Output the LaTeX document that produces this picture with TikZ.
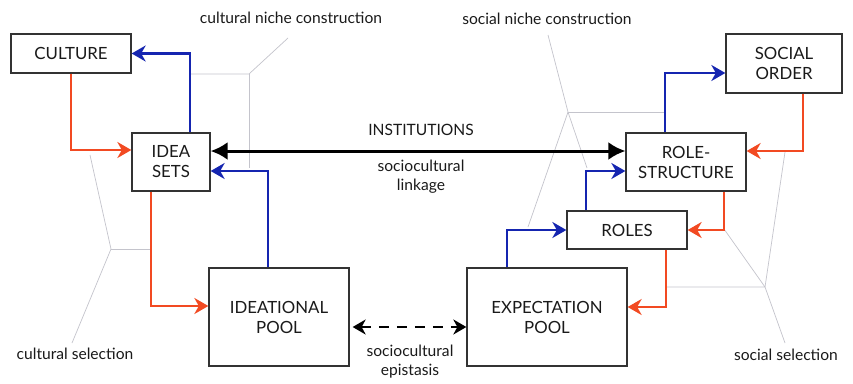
\documentclass[tikz,border=0pt]{standalone}
\usepackage{fontspec}
\setmainfont{Lato}
\usetikzlibrary{arrows.meta}
\definecolor{myblue}{HTML}{1525B0}
\definecolor{myred}{HTML}{F24A22}
\definecolor{mygrey}{HTML}{C4C4CC}
\definecolor{boxline}{HTML}{333333}
\definecolor{txt}{HTML}{1A1A1A}
\begin{document}
\begin{tikzpicture}[x=1pt,y=-1pt,
  box/.style={draw=boxline, line width=1.3pt, fill=white, align=center, inner sep=0pt, text=txt, font=\fontsize{16.8}{20}\selectfont},
  lab/.style={align=center, text=txt, font=\fontsize{15.6}{19}\selectfont},
  bluearr/.style={draw=myblue, line width=2.4pt, -{Stealth[length=14pt,width=16pt,inset=4.5pt]}},
  redarr/.style={draw=myred, line width=2.4pt, -{Stealth[length=14pt,width=16pt,inset=4.5pt]}},
  linkarr/.style={draw=black, line width=3pt, {Latex[length=17pt,width=18pt]}-{Latex[length=17pt,width=18pt]}},
  epiarr/.style={draw=black, line width=2.6pt, dash pattern=on 10pt off 8pt, {Stealth[length=13pt,width=15pt,inset=4pt]}-{Stealth[length=13pt,width=15pt,inset=4pt]}},
  guide/.style={draw=mygrey, line width=0.7pt},
  ]
\useasboundingbox[fill=white] (0,0) rectangle (853,383);

% guide lines (behind)
\coordinate (cn) at (249,74);
\coordinate (cs) at (111,249);
\coordinate (sn) at (568,112);
\coordinate (ss) at (765,287);
\draw[guide] (190,74) -- (cn) -- (288,38);
\draw[guide] (cn) -- (249,168);
\draw[guide] (90,155) -- (cs) -- (72,343);
\draw[guide] (cs) -- (151,249);
\draw[guide] (548,35) -- (sn) -- (587,168);
\draw[guide] (sn) -- (665,112);
\draw[guide] (sn) -- (528,227);
\draw[guide] (785,152) -- (ss) -- (785,343);
\draw[guide] (666,287) -- (ss) -- (724,229);

% boxes
\node[box, minimum width=120pt, minimum height=39pt] (culture) at (71,53.5) {CULTURE};
\node[box, minimum width=78pt, minimum height=58pt] (ideasets) at (171,162) {IDEA\\SETS};
\node[box, minimum width=140pt, minimum height=98pt] (ideational) at (279,317) {IDEATIONAL\\POOL};
\node[box, minimum width=160pt, minimum height=98pt] (expectation) at (547,317) {EXPECTATION\\POOL};
\node[box, minimum width=120pt, minimum height=38pt] (roles) at (627,230) {ROLES};
\node[box, minimum width=120pt, minimum height=58pt] (rolestructure) at (686,162) {ROLE-\\STRUCTURE};
\node[box, minimum width=116pt, minimum height=59pt] (socialorder) at (784,63.5) {SOCIAL\\ORDER};

% labels
\node[lab] (lcnc) at (291,18) {cultural niche construction};
\node[lab] (lsnc) at (547,19) {social niche construction};
\node[lab] (linst) at (421,130) {INSTITUTIONS};
\node[lab] (llink) at (421,177) {sociocultural\\linkage};
\node[lab] (lepi) at (410,362) {sociocultural\\epistasis};
\node[lab] (lcs) at (75,354) {cultural selection};
\node[lab] (lss) at (786,355) {social selection};

% connectors
\draw[bluearr] ([xshift=19pt]ideasets.north) |- (culture.east);
\draw[redarr] (culture.south) |- ([yshift=12pt]ideasets.west);
\draw[linkarr] ([yshift=11pt]ideasets.east) -- ([yshift=11pt]rolestructure.west);
\draw[bluearr] ([xshift=-11pt]ideational.north) |- ([yshift=-9pt]ideasets.east);
\draw[redarr] ([xshift=-20pt]ideasets.south) |- ([yshift=11pt]ideational.west);
\draw[epiarr] ([yshift=-10pt,xshift=3pt]ideational.east) -- ([yshift=-10pt]expectation.west);
\draw[bluearr] ([xshift=-40pt]expectation.north) |- (roles.west);
\draw[bluearr] ([xshift=-41pt]roles.north) |- ([yshift=-9pt]rolestructure.west);
\draw[bluearr] ([xshift=-21pt]rolestructure.north) |- ([yshift=-9.5pt]socialorder.west);
\draw[redarr] ([xshift=19pt]socialorder.south) |- ([yshift=11pt]rolestructure.east);
\draw[redarr] ([xshift=38pt]rolestructure.south) |- (roles.east);
\draw[redarr] ([xshift=39pt]roles.south) |- ([yshift=10pt]expectation.east);
\end{tikzpicture}
\end{document}
